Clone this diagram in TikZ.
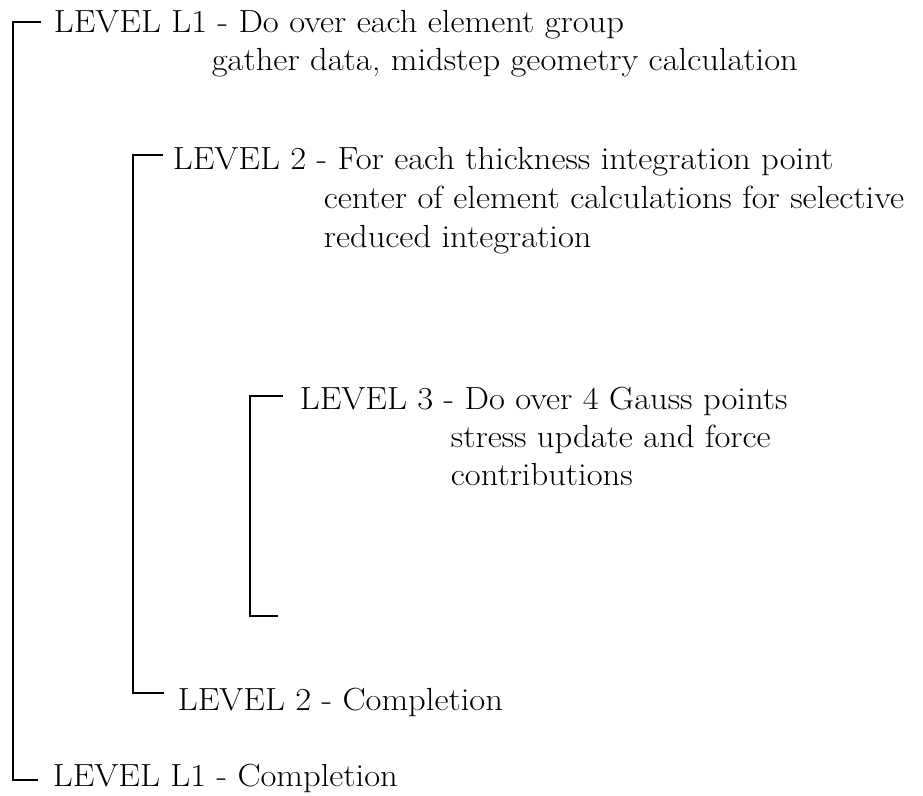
\documentclass[tikz,border=0pt]{standalone}
\usepackage{fontspec}
\setmainfont{Latin Modern Roman}[FakeStretch=1.08]
\usepackage{tikz}

\begin{document}
\begin{tikzpicture}[x=0.75pt, y=-0.75pt, line width=1.3pt,
        every node/.style={anchor=base west, inner sep=0pt, font=\fontsize{24}{28}\selectfont}]
        \useasboundingbox (0,0) rectangle (923,795);
        % text of the three levels
        \node (l1a) at (53,33) {LEVEL L1 - Do over each element group};
        \node (l1b) at (211,71) {gather data, midstep geometry calculation};
        \node (l2a) at (172,169) {LEVEL 2 - For each thickness integration point};
        \node (l2b) at (323,208) {center of element calculations for selective};
        \node (l2c) at (323,247) {reduced integration};
        \node (l3a) at (299,409) {LEVEL 3 - Do over 4 Gauss points};
        \node (l3b) at (450,447) {stress update and force};
        \node (l3c) at (450,485) {contributions};
        \node (l2end) at (177,710) {LEVEL 2 - Completion};
        \node (l1end) at (52,786) {LEVEL L1 - Completion};
        % bracket ends
        \coordinate (l1x) at (13,0);
        \coordinate (l1t) at (41,22);
        \coordinate (l1b) at (38,780);
        \coordinate (l2x) at (133,0);
        \coordinate (l2t) at (163,155);
        \coordinate (l2b) at (164,693);
        \coordinate (l3x) at (250,0);
        \coordinate (l3t) at (283,396);
        \coordinate (l3b) at (278,616);
        \draw (l1t) -- (l1t -| l1x) -- (l1b -| l1x) -- (l1b);
        \draw (l2t) -- (l2t -| l2x) -- (l2b -| l2x) -- (l2b);
        \draw (l3t) -- (l3t -| l3x) -- (l3b -| l3x) -- (l3b);
    \end{tikzpicture}
\end{document}
